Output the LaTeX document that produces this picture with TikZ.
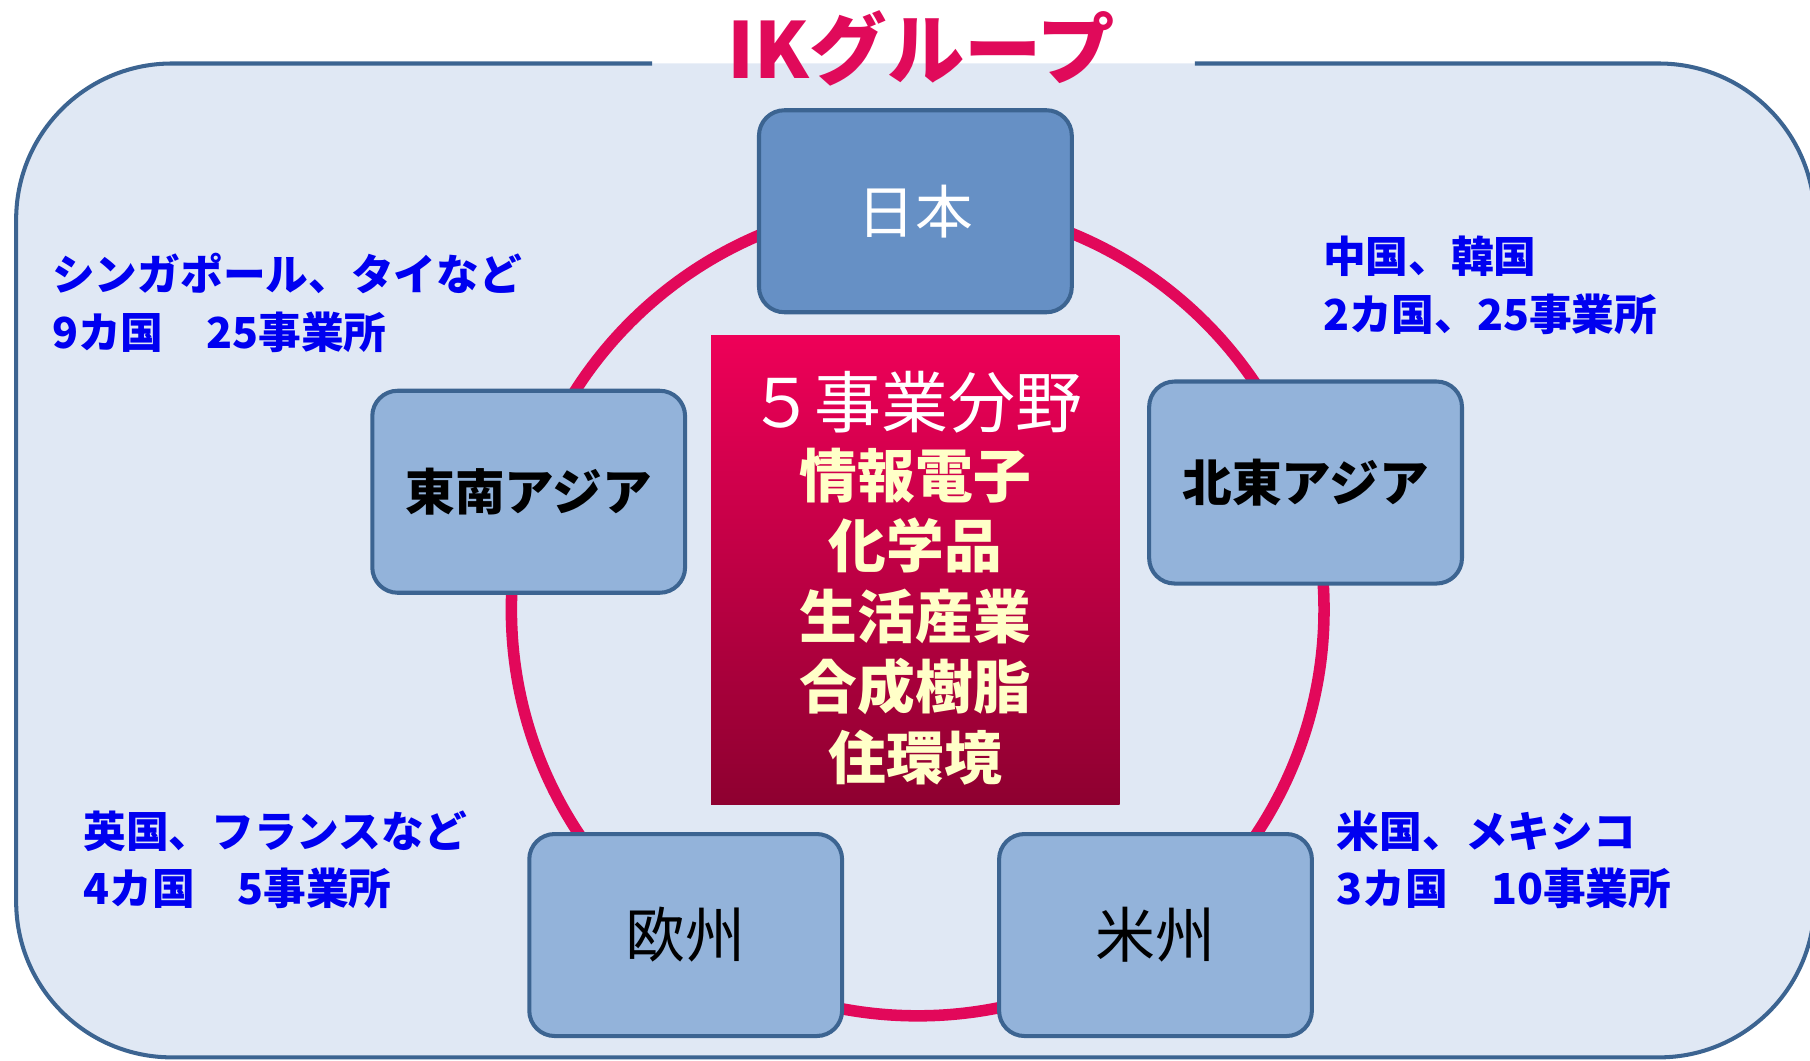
\documentclass[tikz,border=0pt]{standalone}
\usepackage{fontspec}
\newfontfamily\jp{Noto Sans CJK JP}
\definecolor{bgfill}{HTML}{E0E8F4}
\definecolor{frame}{HTML}{3C6491}
\definecolor{darkbox}{HTML}{6690C5}
\definecolor{lightbox}{HTML}{93B3DA}
\definecolor{ring}{HTML}{E2085A}
\definecolor{titlecol}{HTML}{E00A5A}
\definecolor{gtop}{HTML}{EE0058}
\definecolor{gbot}{HTML}{8E0030}
\definecolor{cream}{HTML}{FFFFC8}
\definecolor{labelblue}{HTML}{0000F0}
\tikzset{
  region/.style={draw=frame, line width=3.5pt, rounded corners=22pt, minimum width=271pt, minimum height=175pt, inner sep=0pt, font=\jp},
  darkregion/.style={region, fill=darkbox},
  lightregion/.style={region, fill=lightbox},
  info/.style={text=labelblue, font=\jp\bfseries\fontsize{37}{50}\selectfont, align=left, anchor=north west, inner sep=0pt},
}
\begin{document}
\begin{tikzpicture}[x=1pt,y=-1pt]
\useasboundingbox (0,0) rectangle (1568,919);
\clip (0,0) rectangle (1568,919);
% outer frame
\fill[bgfill, rounded corners=135pt] (14,55) rectangle (1572,916);
\draw[frame, line width=3.5pt, rounded corners=135pt] (1035,55) -- (1572,55) -- (1572,916) -- (14,916) -- (14,55) -- (565,55);
\node[text=titlecol, font=\jp\bfseries\fontsize{67}{70}\selectfont, inner sep=0pt] (title) at (798,42) {IKグループ};
% ring
\draw[ring, line width=10pt] (795,528) circle[radius=352pt];
% regions
\node[darkregion, text=white, font=\jp\fontsize{50}{55}\selectfont] (japan) at (793,183) {日本};
\node[lightregion, font=\jp\bfseries\fontsize{43}{50}\selectfont] (sea) at (458,426) {東南アジア};
\node[lightregion, font=\jp\bfseries\fontsize{43}{50}\selectfont] (nea) at (1131,418) {北東アジア};
\node[lightregion, font=\jp\fontsize{52}{55}\selectfont] (eu) at (594,810) {欧州};
\node[lightregion, font=\jp\fontsize{52}{55}\selectfont] (us) at (1001,810) {米州};
% centre box
\shade[top color=gtop, bottom color=gbot] (616,291) rectangle (970,697);
\node[inner sep=0pt, text=white, font=\jp\fontsize{58}{60}\selectfont] (five) at (793,348) {５事業分野};
\node[inner sep=0pt, text=cream, font=\jp\bfseries\fontsize{50}{61}\selectfont, align=center, anchor=north] (fields) at (793,388) {情報電子\\化学品\\生活産業\\合成樹脂\\住環境};
% labels
\node[info] (l1) at (45,219) {シンガポール、タイなど\\9カ国　25事業所};
\node[info] (l2) at (1146,204) {中国、韓国\\2カ国、25事業所};
\node[info] (l3) at (72,702) {英国、フランスなど\\4カ国　5事業所};
\node[info] (l4) at (1158,702) {米国、メキシコ\\3カ国　10事業所};
\end{tikzpicture}
\end{document}
